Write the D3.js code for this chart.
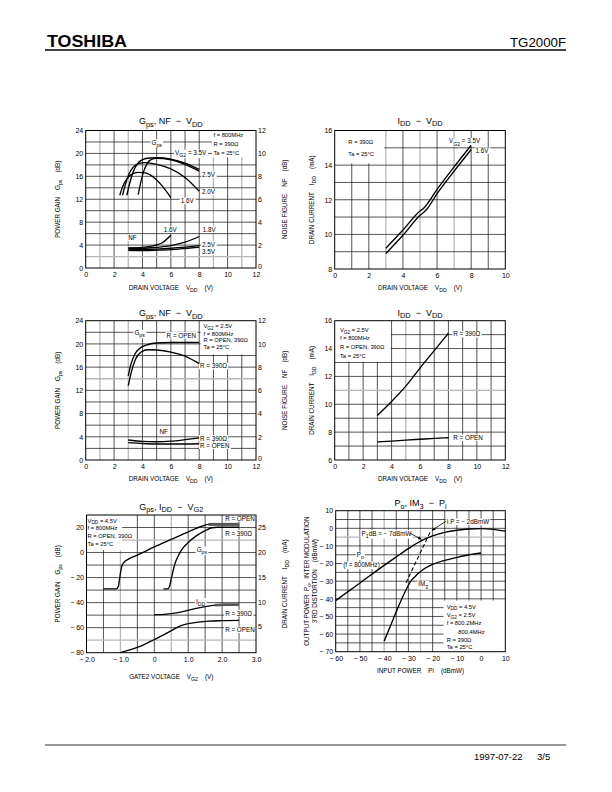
<!DOCTYPE html>
<html>
<head>
<meta charset="utf-8">
<script src="https://cdn.jsdelivr.net/npm/d3@7"></script>
<style>
  body { margin: 0; background: #fff; }
  text { font-family: "Liberation Sans", Arial, sans-serif; fill: #000; }
</style>
</head>
<body>
<script>
// ---- Gps, NF - VDD  (R = 390 ohm, one curve per VG2) ----
const vdd12Ticks = [0, 2, 4, 6, 8, 10, 12];
const gainTicks = [0, 4, 8, 12, 16, 20, 24];
const nfTicks = [0, 2, 4, 6, 8, 10, 12];
const gpsVg35 = [[2.9, 12.7], [3.1, 14.8], [3.35, 16.8], [3.65, 18.2], [4.0, 18.9], [4.5, 19.2], [5, 19.25], [6, 19.0], [7, 18.3], [8, 17.2]];
const gpsVg25 = [[3.7, 12.8], [3.85, 14.6], [4.05, 16.6], [4.3, 18.1], [4.6, 18.9], [5, 19.15], [6, 18.9], [7, 18.1], [8, 16.9]];
const gpsVg20 = [[2.6, 12.7], [2.8, 14.6], [3.05, 16.4], [3.35, 17.6], [3.7, 18.2], [4.2, 18.4], [5, 18.1], [6, 17.3], [7, 15.8], [8, 13.4]];
const gpsVg16 = [[2.4, 12.7], [2.6, 14.2], [2.85, 15.4], [3.2, 16.3], [3.7, 16.7], [4.2, 16.6], [4.8, 15.8], [5.4, 14.3], [6, 12.3]];
const nfVg16 = [[3, 1.75], [4, 1.8], [4.8, 1.95], [5.4, 2.2], [6, 2.85]];
const nfVg18 = [[3, 1.72], [4, 1.72], [5, 1.8], [6, 1.95], [7, 2.25], [8, 2.75]];
const nfVg25 = [[3, 1.65], [4, 1.62], [5, 1.65], [6, 1.72], [7, 1.82], [8, 1.95]];
const nfVg35 = [[3, 1.55], [4, 1.52], [5, 1.55], [6, 1.6], [7, 1.7], [8, 1.82]];

// ---- IDD - VDD  (R = 390 ohm) ----
const vdd10Ticks = [0, 2, 4, 6, 8, 10];
const idd8Ticks = [8, 10, 12, 14, 16];
const iddVg35 = [[3, 9.2], [4, 10.25], [5, 11.35], [5.2, 11.5], [6, 12.6], [7, 13.9], [8, 15.15]];
const iddVg16 = [[3, 8.9], [4, 9.95], [5, 11.1], [5.4, 11.45], [6, 12.35], [7, 13.65], [8, 14.9]];

// ---- Gps, NF - VDD  (VG2 = 2.5V, R = OPEN / 390 ohm) ----
const gpsOpen = [[3, 14.5], [3.2, 16.6], [3.5, 18.4], [3.9, 19.4], [4.4, 19.9], [5, 20.15], [6, 20.25], [7, 20.25], [8, 20.25]];
const gps390 = [[3, 12.8], [3.2, 15.0], [3.5, 17.3], [3.9, 18.6], [4.4, 19.0], [5, 18.95], [6, 18.6], [7, 17.9], [8, 16.6]];
const nf390 = [[3, 1.72], [4, 1.6], [5, 1.57], [6, 1.62], [7, 1.75], [8, 1.9]];
const nfOpen = [[3, 1.5], [4, 1.42], [5, 1.38], [6, 1.38], [7, 1.38], [8, 1.4]];

// ---- IDD - VDD  (VG2 = 2.5V) ----
const idd6Ticks = [6, 8, 10, 12, 14, 16];
const idd390 = [[3, 9.2], [4, 10.2], [5, 11.3], [6, 12.6], [7, 13.85], [8, 15.1]];
const iddOpen = [[3, 7.3], [4, 7.36], [5, 7.43], [6, 7.49], [7, 7.55], [8, 7.6]];

// ---- Gps, IDD - VG2  (VDD = 4.5V) ----
const vg2Ticks = [-2, -1, 0, 1, 2, 3];
const vg2Labels = ["− 2.0", "− 1.0", "0", "1.0", "2.0", "3.0"];
const gainDbTicks = [20, 0, -20, -40, -60, -80];
const gainDbLabels = ["20", "0", "− 20", "− 40", "− 60", "− 80"];
const iddMaTicks = [5, 10, 15, 20, 25];
const gpsVg2Open = [[-1.5, -29], [-1.12, -29], [-1.06, -27], [-1.02, -20], [-0.97, -12], [-0.9, -8], [-0.75, -5], [-0.5, -2], [0, 4.5], [0.5, 10.5], [1, 16.5], [1.4, 21], [1.6, 22.5], [2.5, 22.5]];
const gpsVg2R390 = [[0.27, -29], [0.4, -29], [0.45, -27], [0.5, -21], [0.55, -15], [0.62, -8], [0.7, -3], [0.8, 2], [1.0, 8], [1.25, 13.5], [1.5, 17.5], [1.7, 19.8], [1.85, 20.2], [2.5, 20.2]];
const iddVg2R390 = [[0, 7.6], [0.3, 7.65], [0.6, 7.9], [0.9, 8.3], [1.2, 8.8], [1.5, 9.2], [1.8, 9.5], [2.1, 9.6], [2.5, 9.6]];
const iddVg2Open = [[-1, 0], [-0.7, 0.6], [-0.4, 1.3], [-0.1, 2.3], [0.2, 3.3], [0.5, 4.4], [0.75, 5.3], [1.0, 5.8], [1.3, 6.1], [1.6, 6.3], [2.0, 6.4], [2.5, 6.45]];

// ---- Po, IM3 - Pi ----
const piTicks = [-60, -50, -40, -30, -20, -10, 0, 10];
const piLabels = ["− 60", "− 50", "− 40", "− 30", "− 20", "− 10", "0", "10"];
const poTicks = [10, 0, -10, -20, -30, -40, -50, -60, -70];
const poLabels = ["10", "0", "− 10", "− 20", "− 30", "− 40", "− 50", "− 60", "− 70"];
const poCurve = [[-60, -41], [-50, -31], [-40, -21], [-35, -16.2], [-30, -11.5], [-25, -7.3], [-20, -4.3], [-15, -2.3], [-10, -1.1], [-5, -0.4], [0, -0.2], [5, -0.6], [10, -1.6]];
const im3Curve = [[-40, -64], [-37, -54], [-34, -44], [-31, -35], [-29, -30], [-27, -27], [-25, -24.5], [-20, -20.5], [-15, -18.2], [-10, -16.5], [-5, -15], [0, -14]];
const ipLine = [[-31, -31], [-20.8, -1.5]];
const p1dbArrow = [[-29.3, -2.8], [-24.6, -6.3]];
const ipArrow = [[-14.5, 4], [-20.3, -1.2]];

const NOTE = 6.3;

const svg = d3.select("body").append("svg")
  .attr("width", 612).attr("height", 792)
  .style("display", "block");

svg.append("defs").append("marker")
  .attr("id", "arr").attr("viewBox", "0 0 10 10")
  .attr("refX", 9).attr("refY", 5)
  .attr("markerWidth", 5).attr("markerHeight", 5)
  .attr("orient", "auto")
  .append("path").attr("d", "M0,1 L10,5 L0,9 z").attr("fill", "#000");

/**
 * text helpers, "_{..}" marks a subscript
 */
function rich(t, str, size) {
  const bits = str.split(/_\{([^}]*)\}/);
  let shift = 0;
  bits.forEach((s, i) => {
    const sub = i % 2 === 1;
    if (!s) return;
    const want = sub ? size * 0.32 : 0;
    const ts = t.append("tspan").text(s);
    if (want !== shift) {
      ts.attr("dy", want - shift);
      shift = want;
    }
    if (sub) ts.attr("font-size", size * 0.82);
  });
}

function txt(parent, x, y, str, size, anchor) {
  const t = parent.append("text")
    .attr("x", x).attr("y", y)
    .attr("font-size", size)
    .attr("text-anchor", anchor || "start")
    .style("white-space", "pre");
  rich(t, str, size);
  return t;
}

/**
 * one graph: scales, grid, layers, frame
 */
function panel(box, xd, yd, xStep, yStep, greyX, greyY) {
  const g = svg.append("g");
  const x = d3.scaleLinear().domain(xd).range([box.l, box.r]);
  const y = d3.scaleLinear().domain(yd).range([box.b, box.t]);
  const isGrey = (list, v) => list.some((d) => Math.abs(d - v) < 1e-6);
  const grid = g.append("g");

  d3.range(xd[0] + xStep, xd[1] - xStep / 2, xStep).forEach((v) => {
    grid.append("line")
      .attr("x1", x(v)).attr("x2", x(v))
      .attr("y1", box.t).attr("y2", box.b)
      .attr("stroke", isGrey(greyX, v) ? "#b8b8b8" : "#1e1e1e")
      .attr("stroke-width", isGrey(greyX, v) ? 1.3 : 0.75);
  });
  d3.range(yd[0] + yStep, yd[1] - yStep / 2, yStep).forEach((v) => {
    grid.append("line")
      .attr("x1", box.l).attr("x2", box.r)
      .attr("y1", y(v)).attr("y2", y(v))
      .attr("stroke", isGrey(greyY, v) ? "#b8b8b8" : "#1e1e1e")
      .attr("stroke-width", isGrey(greyY, v) ? 1.3 : 0.75);
  });

  const notes = g.append("g");
  const marks = g.append("g");

  g.append("rect")
    .attr("x", box.l).attr("y", box.t)
    .attr("width", box.r - box.l).attr("height", box.b - box.t)
    .attr("fill", "none").attr("stroke", "#000").attr("stroke-width", 1);

  return { g, x, y, box, notes, marks };
}

function styleAxis(a) {
  a.select(".domain").remove();
  a.attr("font-size", 7).attr("font-family", null);
}

function axisX(p, ticks, labels) {
  p.g.append("g")
    .attr("transform", `translate(0,${p.box.b})`)
    .call(d3.axisBottom(p.x).tickValues(ticks)
      .tickFormat((d, i) => (labels ? labels[i] : d))
      .tickSize(0).tickPadding(4))
    .call(styleAxis);
}

function axisY(p, scale, ticks, labels, right) {
  const ax = right ? d3.axisRight(scale) : d3.axisLeft(scale);
  p.g.append("g")
    .attr("transform", `translate(${right ? p.box.r : p.box.l},0)`)
    .call(ax.tickValues(ticks)
      .tickFormat((d, i) => (labels ? labels[i] : d))
      .tickSize(0).tickPadding(right ? 2 : 2.5))
    .call(styleAxis)
    .call((a) => {
      // corner label sits a touch higher so it clears the x tick below
      if (right) a.selectAll("text").filter((d) => d === ticks[0]).attr("dy", "0.1em");
    });
}

function title(p, str, yPos) {
  txt(p.g, (p.box.l + p.box.r) / 2, yPos, str, 9, "middle");
}

function xTitle(p, str, yPos) {
  txt(p.g, (p.box.l + p.box.r) / 2, yPos, str, 6.3, "middle");
}

function yTitle(p, str, xPos) {
  const cy = (p.box.t + p.box.b) / 2;
  txt(p.g, 0, 0, str, 6.3, "middle")
    .attr("transform", `translate(${xPos},${cy}) rotate(-90)`);
}

// white panel behind a block of conditions
function blank(p, x0, x1, y0, y1) {
  p.notes.append("rect")
    .attr("x", p.x(x0)).attr("y", p.y(y1))
    .attr("width", p.x(x1) - p.x(x0)).attr("height", p.y(y0) - p.y(y1))
    .attr("fill", "#fff");
}

function cond(p, xv, yv, str) {
  return txt(p.notes, p.x(xv), p.y(yv), str, 5.8);
}

function note(p, xv, yv, str, anchor) {
  const t = txt(p.notes, p.x(xv), p.y(yv), str, NOTE, anchor);
  const b = t.node().getBBox();
  p.notes.insert("rect", () => t.node())
    .attr("x", b.x - 1).attr("y", b.y + 0.5)
    .attr("width", b.width + 2).attr("height", b.height - 0.5)
    .attr("fill", "#fff");
  return t;
}

function curve(p, data, scale, width) {
  const ys = scale || p.y;
  return p.marks.append("path")
    .datum(data)
    .attr("d", d3.line()
      .x((d) => p.x(d[0]))
      .y((d) => ys(d[1]))
      .curve(d3.curveMonotoneX))
    .attr("fill", "none")
    .attr("stroke", "#000")
    .attr("stroke-width", width || 1.35)
    .attr("stroke-linejoin", "round");
}

/**
 * page header / footer
 */
svg.append("text")
  .attr("x", 47).attr("y", 46.5)
  .attr("font-size", 16.5).attr("font-weight", "bold")
  .attr("textLength", 80).attr("lengthAdjust", "spacingAndGlyphs")
  .text("TOSHIBA");
svg.append("text")
  .attr("x", 566).attr("y", 46.5)
  .attr("font-size", 13).attr("text-anchor", "end")
  .attr("textLength", 56).attr("lengthAdjust", "spacingAndGlyphs")
  .text("TG2000F");
svg.append("line")
  .attr("x1", 45).attr("x2", 566).attr("y1", 50).attr("y2", 50)
  .attr("stroke", "#000").attr("stroke-width", 1.4);
svg.append("line")
  .attr("x1", 45).attr("x2", 566).attr("y1", 745).attr("y2", 745)
  .attr("stroke", "#000").attr("stroke-width", 0.8);
svg.append("text").attr("x", 474).attr("y", 760).attr("font-size", 9.5).text("1997-07-22");
svg.append("text").attr("x", 537).attr("y", 760).attr("font-size", 9.5).text("3/5");

/**
 * 1. Gps, NF - VDD (VG2 parameter)
 */
const p1 = panel({ l: 85.7, r: 256, t: 130.5, b: 268 }, [0, 12], [0, 24], 1, 2, [1, 3, 9, 11], [2]);
const p1nf = d3.scaleLinear().domain([0, 12]).range([p1.box.b, p1.box.t]);
axisX(p1, vdd12Ticks);
axisY(p1, p1.y, gainTicks);
axisY(p1, p1nf, nfTicks, null, true);
title(p1, "G_{ps}, NF  −  V_{DD}", 124);
xTitle(p1, "DRAIN VOLTAGE    V_{DD}    (V)", 290);
yTitle(p1, "POWER GAIN    G_{ps}    (dB)", 59.5);
yTitle(p1, "NOISE FIGURE    NF    (dB)", 286.5);
blank(p1, 8.9, 12, 19.3, 24);
cond(p1, 9.0, 22.9, "f = 800MHz");
cond(p1, 9.0, 21.3, "R = 390Ω");
cond(p1, 9.0, 19.7, "Ta = 25°C");
note(p1, 5.0, 21.5, "G_{ps}", "middle");
note(p1, 6.3, 19.7, "V_{G2} = 3.5V");
note(p1, 8.2, 15.9, "2.5V");
note(p1, 8.2, 12.9, "2.0V");
note(p1, 6.7, 11.3, "1.6V");
note(p1, 3.0, 4.9, "NF");
note(p1, 5.5, 6.3, "1.6V");
note(p1, 8.25, 6.3, "1.8V");
note(p1, 8.2, 3.7, "2.5V");
note(p1, 8.2, 2.45, "3.5V");
[gpsVg35, gpsVg25, gpsVg20, gpsVg16].forEach((d) => curve(p1, d));
[nfVg16, nfVg18, nfVg25, nfVg35].forEach((d) => curve(p1, d, p1nf));

/**
 * 2. IDD - VDD (VG2 parameter)
 */
const p2 = panel({ l: 334.7, r: 505.3, t: 130.5, b: 269 }, [0, 10], [8, 16], 1, 1, [3, 5, 7], []);
axisX(p2, vdd10Ticks);
axisY(p2, p2.y, idd8Ticks);
title(p2, "I_{DD}  −  V_{DD}", 123.5);
xTitle(p2, "DRAIN VOLTAGE    V_{DD}    (V)", 290);
yTitle(p2, "DRAIN CURRENT    I_{DD}    (mA)", 313.5);
blank(p2, 0, 2.9, 14.1, 16);
cond(p2, 0.8, 15.2, "R = 390Ω");
cond(p2, 0.8, 14.5, "Ta = 25°C");
note(p2, 6.7, 15.25, "V_{G2} = 3.5V");
note(p2, 8.26, 14.7, "1.6V");
curve(p2, iddVg35);
curve(p2, iddVg16);

/**
 * 3. Gps, NF - VDD (R parameter)
 */
const p3 = panel({ l: 85.7, r: 256, t: 320.7, b: 460 }, [0, 12], [0, 24], 1, 2, [1, 3], [14]);
const p3nf = d3.scaleLinear().domain([0, 12]).range([p3.box.b, p3.box.t]);
axisX(p3, vdd12Ticks);
axisY(p3, p3.y, gainTicks);
axisY(p3, p3nf, nfTicks, null, true);
title(p3, "G_{ps}, NF  −  V_{DD}", 316);
xTitle(p3, "DRAIN VOLTAGE    V_{DD}    (V)", 480.5);
yTitle(p3, "POWER GAIN    G_{ps}    (dB)", 59.5);
yTitle(p3, "NOISE FIGURE    NF    (dB)", 286.5);
blank(p3, 8.1, 12, 18.2, 24);
cond(p3, 8.3, 22.7, "V_{G2} = 2.5V");
cond(p3, 8.3, 21.45, "f = 800MHz");
cond(p3, 8.3, 20.25, "R = OPEN, 390Ω");
cond(p3, 8.3, 19.05, "Ta = 25°C");
note(p3, 3.8, 21.5, "G_{ps}", "middle");
note(p3, 5.7, 21.1, "R = OPEN");
note(p3, 8.05, 15.8, "R = 390Ω");
note(p3, 5.5, 4.4, "NF", "middle");
note(p3, 8.05, 3.35, "R = 390Ω");
note(p3, 8.05, 2.07, "R = OPEN");
curve(p3, gpsOpen);
curve(p3, gps390);
curve(p3, nf390, p3nf);
curve(p3, nfOpen, p3nf);

/**
 * 4. IDD - VDD (R parameter)
 */
const p4 = panel({ l: 334.7, r: 505.3, t: 320.7, b: 460 }, [0, 12], [6, 16], 1, 1, [5], [11]);
axisX(p4, vdd12Ticks);
axisY(p4, p4.y, idd6Ticks);
title(p4, "I_{DD}  −  V_{DD}", 315.5);
xTitle(p4, "DRAIN VOLTAGE    V_{DD}    (V)", 481);
yTitle(p4, "DRAIN CURRENT    I_{DD}    (mA)", 313.5);
blank(p4, 0, 3.95, 13.05, 16);
cond(p4, 0.37, 15.2, "V_{G2} = 2.5V");
cond(p4, 0.37, 14.6, "f = 800MHz");
cond(p4, 0.37, 13.97, "R = OPEN, 390Ω");
cond(p4, 0.37, 13.33, "Ta = 25°C");
note(p4, 8.34, 14.87, "R = 390Ω");
note(p4, 8.34, 7.44, "R = OPEN");
curve(p4, idd390);
curve(p4, iddOpen);

/**
 * 5. Gps, IDD - VG2
 */
const p5 = panel({ l: 86.5, r: 256, t: 515, b: 652.7 }, [-2, 3], [-80, 30], 0.5, 10, [-1, 0.5], [10, -70]);
const p5ma = d3.scaleLinear().domain([0, 27.5]).range([p5.box.b, p5.box.t]);
axisX(p5, vg2Ticks, vg2Labels);
axisY(p5, p5.y, gainDbTicks, gainDbLabels);
axisY(p5, p5ma, iddMaTicks, null, true);
title(p5, "G_{ps}, I_{DD}  −  V_{G2}", 509.5);
xTitle(p5, "GATE2 VOLTAGE    V_{G2}    (V)", 679);
yTitle(p5, "POWER GAIN    G_{ps}    (dB)", 59.5);
yTitle(p5, "DRAIN CURRENT    I_{DD}    (mA)", 286.5);
blank(p5, -2, -0.95, 2, 30);
cond(p5, -1.97, 24, "V_{DD} = 4.5V");
cond(p5, -1.97, 17.8, "f = 800MHz");
cond(p5, -1.97, 11.6, "R = OPEN, 390Ω");
cond(p5, -1.97, 5.4, "Ta = 25°C");
note(p5, 2.09, 25.6, "R = OPEN");
note(p5, 2.09, 13.6, "R = 390Ω");
note(p5, 1.25, 0.4, "G_{ps}");
note(p5, 1.23, -40.7, "I_{DD}");
note(p5, 2.09, -50.3, "R = 390Ω");
note(p5, 2.09, -63.5, "R = OPEN");
curve(p5, gpsVg2Open);
curve(p5, gpsVg2R390);
curve(p5, iddVg2R390, p5ma);
curve(p5, iddVg2Open, p5ma);
// heavy flat ends, as printed
curve(p5, gpsVg2Open.filter((d) => d[0] >= 1.6), null, 3).attr("stroke", "#555");
curve(p5, iddVg2R390.filter((d) => d[0] >= 1.8), p5ma, 2.6).attr("stroke", "#555");

/**
 * 6. Po, IM3 - Pi
 */
const p6 = panel({ l: 335.7, r: 505.3, t: 510.7, b: 651.7 }, [-60, 10], [-70, 10], 5, 5, [-40, -25], [-5]);
axisX(p6, piTicks, piLabels);
axisY(p6, p6.y, poTicks, poLabels);
title(p6, "P_{o}, IM_{3}  −  P_{i}", 506);
xTitle(p6, "INPUT POWER    Pi    (dBmW)", 673);
yTitle(p6, "OUTPUT POWER  P_{o},  INTER MODULATION", 308.5);
yTitle(p6, "3'RD DISTORTION    (dBmW)", 316.5);
blank(p6, -15.5, 10, -70, -41);
cond(p6, -14.2, -45.5, "V_{DD} = 4.5V");
cond(p6, -14.2, -50.2, "V_{G2} = 2.5V");
cond(p6, -14.2, -55, "f = 800.2MHz");
cond(p6, -9.4, -59.8, "800.4MHz");
cond(p6, -14.2, -64.3, "R = 390Ω");
cond(p6, -14.2, -68.6, "Ta = 25°C");
note(p6, -14.2, 2.5, "I.P = − 2dBmW");
note(p6, -49.3, -4.1, "P_{1}dB = − 7dBmW");
note(p6, -51.3, -16.3, "P_{o}");
note(p6, -56.9, -22, "(f = 800MHz)");
note(p6, -25.9, -33, "IM_{3}");
curve(p6, poCurve);
curve(p6, im3Curve);
curve(p6, ipLine, null, 1.1).attr("stroke-dasharray", "4,2.5");
curve(p6, p1dbArrow, null, 0.8).attr("marker-end", "url(#arr)");
curve(p6, ipArrow, null, 0.8).attr("marker-end", "url(#arr)");
</script>
</body>
</html>
